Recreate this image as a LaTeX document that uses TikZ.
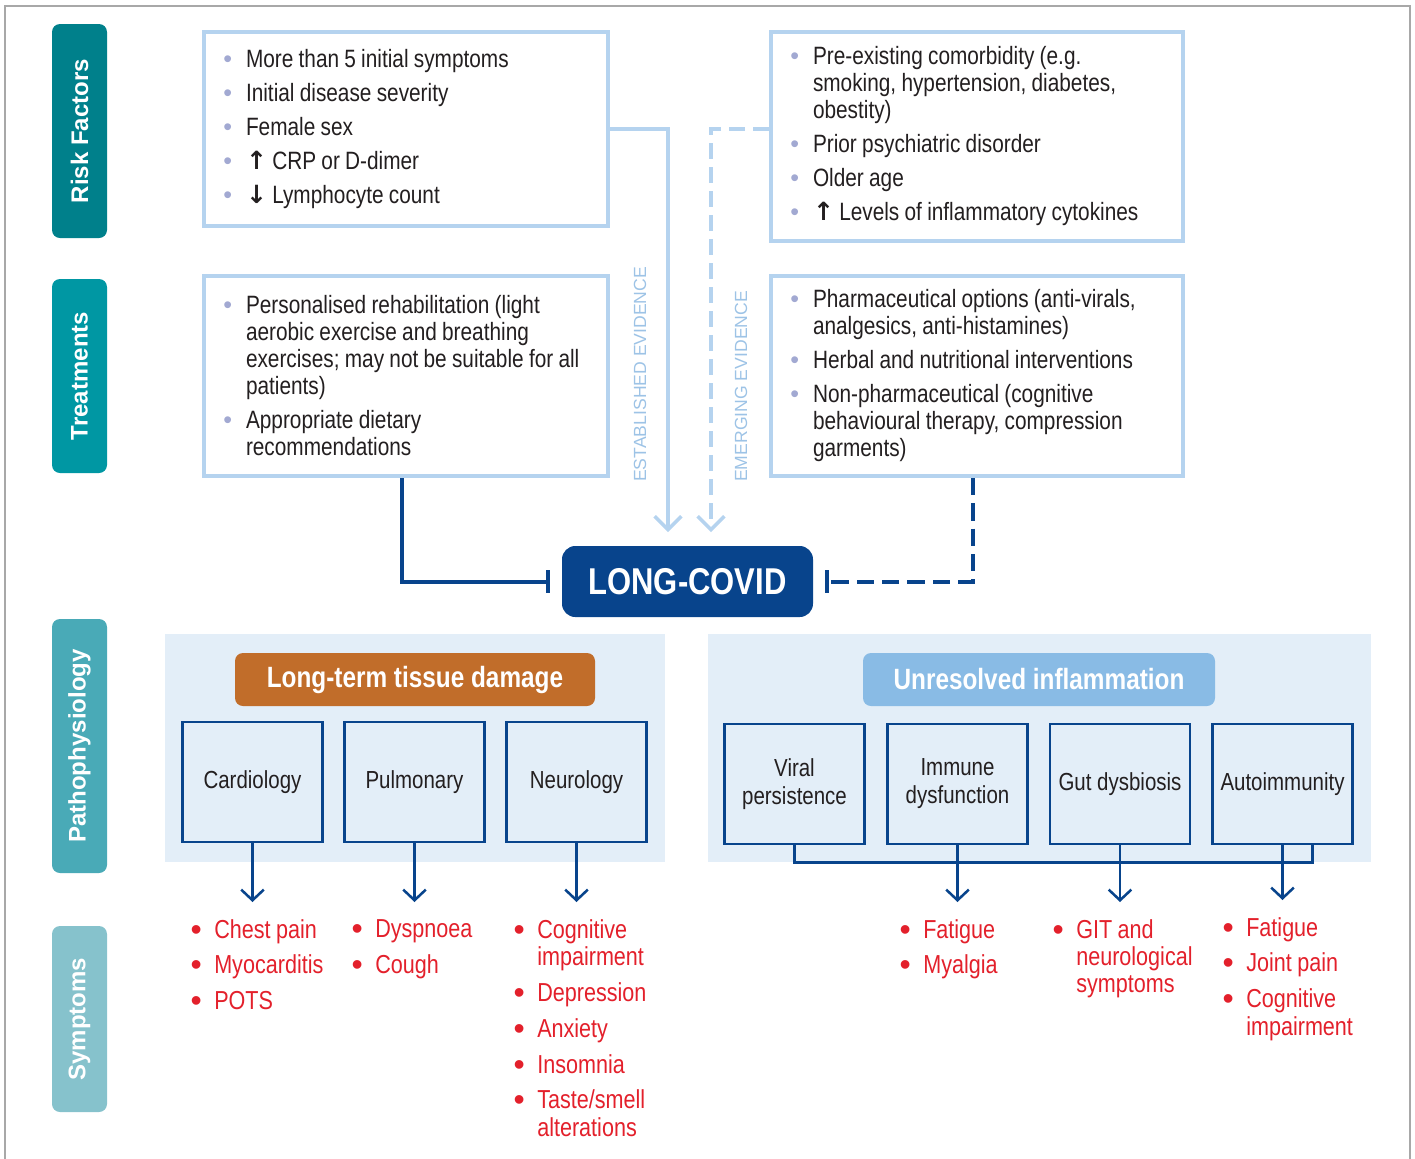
\documentclass[tikz,border=0pt]{standalone}
\usepackage{fontspec}
\setmainfont{Liberation Sans}[FakeStretch=0.83]
\newfontfamily\widefont{Liberation Sans}
\newfontfamily\arrowfont{DejaVu Sans}
\usepackage{tikz}
\usetikzlibrary{arrows.meta}

\definecolor{riskteal}{HTML}{00808B}
\definecolor{treatteal}{HTML}{0097A3}
\definecolor{pathoteal}{HTML}{49AAB7}
\definecolor{symteal}{HTML}{86C2CC}
\definecolor{boxline}{HTML}{B5D3EF}
\definecolor{evidblue}{HTML}{9DC3E6}
\definecolor{covidnavy}{HTML}{08448C}
\definecolor{panelfill}{HTML}{E3EEF8}
\definecolor{damageorange}{HTML}{C16D2A}
\definecolor{inflamblue}{HTML}{89BBE5}
\definecolor{symred}{HTML}{E3202B}
\definecolor{dotgray}{HTML}{A2A9D2}
\definecolor{textdark}{HTML}{231F20}
\definecolor{framegray}{HTML}{A8A8A8}

% list lines with tight word spaces
\newcommand{\tightspaces}{\spaceskip=0.21em plus 0.1em minus 0.05em\xspaceskip=0.24em}
\newcommand{\factitem}[1]{\tightspaces\hangindent=16.5pt\hangafter=0\noindent\llap{\textcolor{dotgray}{\widefont\textbullet}\hspace{10.3pt}}#1\par}
\newcommand{\symitem}[1]{\tightspaces\hangindent=13.5pt\hangafter=0\noindent\llap{\raisebox{-1.5pt}{\textcolor{symred}{\widefont\fontsize{24}{24}\selectfont\textbullet}}\hspace{9.3pt}}#1\par}
\newcommand{\upmark}{{\arrowfont\bfseries ↑}}
\newcommand{\downmark}{{\arrowfont\bfseries ↓}}

\tikzset{
  tabbox/.style={rounded corners=6pt, rotate=90, text=white, inner sep=0pt, minimum height=41.25pt, font={\widefont\bfseries\fontsize{18}{20}\selectfont}},
  factbox/.style={draw=boxline, line width=3pt, fill=white, inner xsep=15pt, inner ysep=0pt, align=left, text=textdark, font={\fontsize{18.8}{20.25}\selectfont\setlength{\parskip}{5.25pt}}},
  evidlabel/.style={rotate=90, anchor=west, inner sep=0pt, text=evidblue, font={\widefont\fontsize{13.2}{15}\selectfont}},
  evidline/.style={draw=boxline, line width=2.6pt, -{Straight Barb[length=10pt,width=20pt]}},
  blockline/.style={draw=covidnavy, line width=3pt, -{Bar[width=17pt]}},
  covidbox/.style={fill=covidnavy, rounded corners=10pt, text=white, inner sep=0pt, minimum width=188.25pt, minimum height=53.25pt, font={\bfseries\fontsize{28}{30}\selectfont}},
  panel/.style={fill=panelfill, inner sep=0pt},
  headbox/.style={rounded corners=6pt, text=white, inner sep=0pt, minimum height=39.75pt, font={\bfseries\fontsize{22}{24}\selectfont}},
  organbox/.style={draw=covidnavy, line width=1.9pt, fill=panelfill, minimum width=105pt, minimum height=90pt, inner xsep=2pt, align=center, text=textdark, font={\fontsize{18.5}{21}\selectfont}},
  symlist/.style={anchor=north west, inner sep=0pt, text width=110pt, align=left, text=symred, font={\fontsize{19.5}{20.5}\selectfont\setlength{\parskip}{6.4pt}}},
  pathline/.style={draw=covidnavy, line width=1.9pt},
  downarrow/.style={pathline, -{Straight Barb[length=8pt,width=17pt]}, shorten >=12.75pt}
}

\begin{document}
\begin{tikzpicture}[x=0.75pt,y=0.75pt,yscale=-1,xscale=1]
\useasboundingbox (0,0) rectangle (1415,1158);

%Shape: Frame
\draw[framegray, line width=1.1pt] (5,1170) -- (5,6) -- (1410,6) -- (1410,1170);

%Shape: Side tabs
\node[tabbox, fill=riskteal, minimum width=160.5pt] (tabRisk) at (79.5,131) {Risk Factors};
\node[tabbox, fill=treatteal, minimum width=145.5pt] (tabTreat) at (79.5,376) {Treatments};
\node[tabbox, fill=pathoteal, minimum width=190.5pt] (tabPatho) at (79.5,746) {Pathophysiology};
\node[tabbox, fill=symteal, minimum width=139.5pt] (tabSymp) at (79.5,1019) {Symptoms};

%Shape: Risk factor boxes
\node[factbox, minimum width=303pt, minimum height=145.5pt, text width=273pt] (riskA) at (406,129) {
  \factitem{More than 5 initial symptoms}
  \factitem{Initial disease severity}
  \factitem{Female sex}
  \factitem{\upmark\ CRP or D-dimer}
  \factitem{\downmark\ Lymphocyte count}};
\node[factbox, minimum width=309pt, minimum height=156.75pt, text width=279pt] (riskB) at (977,136.5) {
  \factitem{Pre-existing comorbidity (e.g.\newline smoking, hypertension, diabetes,\newline obestity)}
  \factitem{Prior psychiatric disorder}
  \factitem{Older age}
  \factitem{\upmark\ Levels of inflammatory cytokines}};

%Shape: Treatment boxes
\node[factbox, minimum width=303pt, minimum height=150pt, text width=273pt] (treatA) at (406,376) {
  \factitem{Personalised rehabilitation (light\newline aerobic exercise and breathing\newline exercises; may not be suitable for all\newline patients)}
  \factitem{Appropriate dietary\newline recommendations}};
\node[factbox, minimum width=309pt, minimum height=150pt, text width=279pt] (treatB) at (977,376) {
  \factitem{Pharmaceutical options (anti-virals,\newline analgesics, anti-histamines)}
  \factitem{Herbal and nutritional interventions}
  \factitem{Non-pharmaceutical (cognitive\newline behavioural therapy, compression\newline garments)}};

% Text Node
\node[evidlabel] (estLabel) at (640,482) {ESTABLISHED EVIDENCE};
% Text Node
\node[evidlabel] (emgLabel) at (741,482) {EMERGING EVIDENCE};

%Shape: LONG-COVID
\node[covidbox] (covid) at (687.5,581.5) {LONG-COVID};

\coordinate (estEnd) at (668,532);
\coordinate (emgEnd) at (711,532);

%Straight Lines
\draw[evidline] (riskA.east) -| (estEnd);
\draw[evidline, dash pattern=on 12pt off 6pt] (riskB.west |- riskA.east) -| (emgEnd);
\draw[blockline] ([xshift=-3pt]treatA.south) |- ([xshift=-9pt]covid.west);
\draw[blockline, dash pattern=on 13pt off 6pt] ([xshift=-3pt]treatB.south) |- ([xshift=9pt]covid.east);

%Shape: Pathophysiology panels
\node[panel, minimum width=375pt, minimum height=171pt] (damagePanel) at (415,748) {};
\node[panel, minimum width=497.25pt, minimum height=171pt] (inflamPanel) at (1039.5,748) {};

\node[headbox, fill=damageorange, minimum width=270pt] (damageHead) at (415,679.5) {Long-term tissue damage};
\node[headbox, fill=inflamblue, minimum width=264pt] (inflamHead) at (1039,679.5) {Unresolved inflammation};

\node[organbox] (cardio) at (252.5,782) {Cardiology};
\node[organbox] (pulmo) at (414.5,782) {Pulmonary};
\node[organbox] (neuro) at (576.5,782) {Neurology};
\node[organbox] (viral) at (794.5,784) {Viral\\persistence};
\node[organbox] (immune) at (957.5,784) {Immune\\dysfunction};
\node[organbox] (gut) at (1120,784) {Gut dysbiosis};
\node[organbox] (autoimm) at (1282.5,784) {Autoimmunity};

%Shape: Symptom lists
\node[symlist] (symCardio) at (196,919) {\symitem{Chest pain}\symitem{Myocarditis}\symitem{POTS}};
\node[symlist] (symPulmo) at (357,919) {\symitem{Dyspnoea}\symitem{Cough}};
\node[symlist] (symNeuro) at (519,919) {\symitem{Cognitive\newline impairment}\symitem{Depression}\symitem{Anxiety}\symitem{Insomnia}\symitem{Taste/smell\newline alterations}};
\node[symlist] (symImmune) at (905,919) {\symitem{Fatigue}\symitem{Myalgia}};
\node[symlist] (symGut) at (1058,919) {\symitem{GIT and\newline neurological\newline symptoms}};
\node[symlist] (symAuto) at (1228,917) {\symitem{Fatigue}\symitem{Joint pain}\symitem{Cognitive\newline impairment}};

%Straight Lines
\draw[downarrow] (cardio.south) -- (cardio.south |- symCardio.north);
\draw[downarrow] (pulmo.south) -- (pulmo.south |- symPulmo.north);
\draw[downarrow] (neuro.south) -- (neuro.south |- symNeuro.north);
\draw[pathline] (viral.south) -- ++(0,17) -| ([xshift=22.5pt]autoimm.south);
\draw[downarrow] (immune.south) -- (immune.south |- symImmune.north);
\draw[downarrow] (gut.south) -- (gut.south |- symGut.north);
\draw[downarrow] (autoimm.south) -- (autoimm.south |- symAuto.north);

\end{tikzpicture}
\end{document}
